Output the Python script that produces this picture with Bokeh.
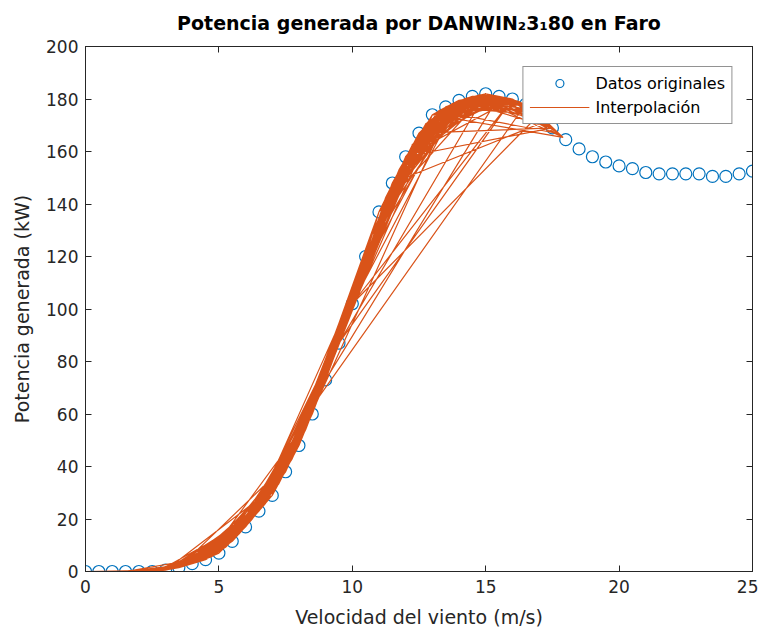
from bokeh.plotting import figure
from bokeh.models import Range1d, LinearAxis, Legend, LegendItem, FixedTicker, CustomLabelingPolicy
from bokeh.embed import file_html
from bokeh.resources import INLINE

# Curva de potencia original (m/s -> kW)
velocidad = [0, 0.5, 1, 1.5, 2, 2.5, 3, 3.5, 4, 4.5, 5, 5.5, 6, 6.5, 7, 7.5, 8, 8.5, 9, 9.5,
             10, 10.5, 11, 11.5, 12, 12.5, 13, 13.5, 14, 14.5, 15, 15.5, 16, 16.5, 17, 17.5,
             18, 18.5, 19, 19.5, 20, 20.5, 21, 21.5, 22, 22.5, 23, 23.5, 24, 24.5, 25]
potencia = [0, 0, 0, 0, 0, 0, 0.5, 1.5, 3, 4.5, 7, 11.5, 17, 23, 29, 38, 48, 60, 73, 87,
            102, 120, 137, 148, 158, 167, 174, 177, 179.5, 181, 182, 181, 180, 178, 174, 169,
            164.5, 161, 158, 156, 154.5, 153.5, 152, 151.5, 151.5, 151.5, 151.5, 150.5, 150.5, 151.5, 152.5]

# Serie temporal de viento en Faro y potencia interpolada (en orden temporal)
viento_serie = [
    1.5, 0.5, 1.25, 2.25, 3.0, 2.0, 2.75, 3.75, 3.25, 4.5, 3.5, 4.25, 5.25, 4.0, 3.0, 2.5, 1.75, 0.75, 0.0, 1.0,
    2.25, 3.5, 4.75, 6.0, 5.0, 4.25, 5.5, 6.75, 5.75, 4.5, 3.75, 5.0, 6.5, 7.75, 6.25, 5.25, 7.0, 8.25, 7.25, 6.0,
    4.75, 3.5, 7.75, 8.75, 7.5, 9.0, 10.25, 8.5, 9.75, 11.0, 12.25, 10.5, 9.25, 8.0, 6.75, 5.5, 4.5, 8.5, 9.5, 11.25,
    12.5, 13.75, 12.0, 10.75, 11.75, 13.0, 14.25, 13.25, 12.25, 11.0, 9.75, 8.25, 7.0, 5.75, 4.25, 3.25, 2.5, 1.5, 2.75, 4.0,
    5.25, 6.5, 8.0, 9.5, 10.75, 12.0, 13.5, 14.75, 15.5, 14.5, 13.0, 14.0, 15.25, 16.0, 15.0, 13.75, 12.75, 11.5, 10.25, 9.0,
    7.75, 6.25, 5.0, 3.75, 4.75, 6.0, 7.25, 8.75, 16.5, 15.75, 14.5, 15.5, 16.25, 17.0, 16.0, 14.75, 13.5, 12.5, 17.5, 16.75,
    15.25, 14.0, 12.75, 11.5, 17.25, 16.5, 15.0, 13.75, 14.5, 15.75, 14.25, 13.0, 17.9, 17.0, 15.5, 14.0, 12.0, 16.0, 15.0, 13.25,
    12.0, 10.5, 9.25, 10.0, 16.0, 14.75, 13.5, 12.25, 11.0, 9.5, 16.0, 15.25, 14.0, 12.75, 11.25, 10.0, 17.0, 15.75, 14.5, 13.25,
    12.0, 10.75, 9.5, 8.5, 7.25, 6.25, 5.25, 4.5, 3.5, 2.75, 2.0, 3.0, 4.25, 5.5, 7.0, 8.0, 9.0, 15.5, 14.25, 13.0,
    11.75, 10.5, 9.25, 8.0, 6.75, 5.75, 4.75, 4.0, 3.25, 2.25, 1.25, 0.5, 1.5, 2.5, 3.5, 4.5, 5.75, 7.25, 8.75, 10.0,
    11.25, 12.5, 13.75, 15.0, 16.25, 17.75, 16.75, 15.5, 14.25, 13.0, 11.75, 10.25, 8.75, 7.5, 6.25, 5.5, 6.75, 8.25, 9.75, 11.5,
    13.0, 14.5, 15.75, 14.75, 13.5, 12.25, 10.75, 9.25, 7.75, 6.5, 5.25, 4.0, 5.0, 6.0, 7.5, 9.0, 10.5, 12.0, 13.25, 14.0,
    12.75, 11.25, 9.75, 8.75, 16.5, 15.5, 14.25, 15.0, 16.0, 14.75, 13.75, 12.5, 11.0, 9.5, 8.25, 7.0, 5.75, 4.5, 3.25, 2.0,
    0.5, 2.5, 1.0, 3.25, 1.75, 4.0, 2.25, 4.75, 3.0, 5.5, 3.5, 6.0, 4.0, 6.5, 4.5, 2.0, 0.25, 2.75, 5.0, 3.25,
    5.75, 3.75, 6.25, 4.25, 7.0, 4.75, 7.5, 5.25, 8.0, 5.75,
    8.5, 6.25, 9.0, 6.75, 9.5, 7.25, 10.0, 7.75, 10.5, 8.25, 11.0, 8.75, 11.5, 9.25, 12.0, 9.75, 12.5, 10.25, 13.0, 10.75,
    13.5, 11.25, 14.0, 11.75, 14.5, 12.25, 15.0, 12.75, 15.5, 13.25, 16.0, 13.75, 16.5, 14.25, 17.0, 14.75, 17.5, 15.25, 12.5, 15.75,
    13.0, 10.0, 12.25, 9.0, 11.5, 8.0, 10.75, 7.5, 10.0, 6.75, 9.25, 6.0, 8.5, 5.25, 7.75, 4.5, 7.0, 3.75, 6.25, 3.0,
    5.5, 2.5, 4.75, 1.5, 4.0, 6.75, 5.0, 8.0, 6.25, 9.0, 7.0, 10.25, 8.25, 11.0, 9.0, 12.0, 9.75, 13.0, 10.5, 14.0,
    11.5, 14.75, 12.0, 15.25, 12.75, 16.0, 13.5, 16.75, 14.0, 17.25, 14.5, 17.9, 15.0, 13.0, 15.5, 13.75, 16.25, 14.25, 11.0, 15.0,
    9.5, 16.0, 15.0, 13.75, 8.75, 16.5, 15.25, 14.0, 10.0, 17.0, 16.0, 14.75, 12.0, 17.5, 16.25, 13.25, 17.75, 15.5, 13.5, 11.75,
    8.25, 5.5, 7.5, 4.75, 6.75, 4.25, 6.0, 3.5, 5.25, 3.0, 4.5, 2.25, 3.75, 1.25, 3.0, 0.0, 2.0, 4.0, 2.75, 5.0,
    3.25, 6.0, 4.25, 7.25, 5.5, 8.5, 6.5, 9.25, 7.25, 10.0, 8.0, 10.75, 8.75, 11.5, 9.5, 12.25, 10.25, 13.25, 11.0, 14.5,
    12.0, 15.0, 13.0, 15.75, 14.0, 16.5, 15.0, 17.25, 15.75, 13.5, 16.0, 14.5, 12.5, 14.75, 11.75, 13.75, 10.75, 12.75, 9.75, 11.75,
    8.75, 10.75, 7.75, 9.75, 7.0, 9.0, 6.5, 8.25, 5.75, 7.5, 5.0, 6.75, 4.25, 6.0, 3.5, 5.25, 2.75, 4.5, 2.0, 1.0,
    2.5, 5.0, 2.75, 5.25, 3.0, 5.5, 3.25, 5.75, 3.5, 6.0, 3.75, 6.25, 4.0, 6.5, 4.25, 6.75, 4.5, 7.0, 4.75, 7.25,
    3.0, 6.5, 3.5, 7.0, 4.0, 7.5, 4.5, 8.0, 5.0, 8.5, 5.5, 9.0, 6.0, 9.5, 6.5, 10.0, 7.0, 10.5, 7.5, 11.0,
    8.0, 4.5, 7.75, 4.25, 7.25, 3.75, 6.75, 3.25, 6.25, 2.75, 5.75, 9.25, 6.0, 9.75, 6.25, 10.25, 7.25, 10.75, 8.25, 11.75,
    8.75, 12.25, 9.25, 12.75, 9.75, 13.25, 10.25, 13.75, 10.75, 14.25, 11.25, 14.75, 11.75, 15.25, 12.25, 15.75, 12.75, 16.25, 13.25, 16.75,
    13.5, 10.5, 14.0, 11.0, 14.5, 11.5, 15.0, 12.0, 15.5, 12.5, 16.0, 13.0, 16.5, 13.5, 17.0, 14.0, 17.5, 14.5, 11.5, 8.25,
]
potencia_serie = [
    0, 0, 0, 0, 0.5, 0, 0.25, 2.25, 1, 4.5, 1.5, 3.75, 9.25, 3, 0.5, 0, 0, 0, 0, 0,
    0, 1.5, 5.75, 17, 7, 3.75, 11.5, 26, 14.25, 4.5, 2.25, 7, 23, 43, 20, 9.25, 29, 54, 33.5, 17,
    5.75, 1.5, 43, 66.5, 38, 73, 111, 60, 94.5, 137, 162.5, 120, 80, 48, 26, 11.5, 4.5, 60, 87, 142.5,
    167, 178.25, 158, 128.5, 153, 174, 180.25, 175.5, 162.5, 137, 94.5, 54, 29, 14.25, 3.75, 1, 0, 0, 0.25, 3,
    9.25, 23, 48, 87, 128.5, 158, 177, 181.5, 181, 181, 174, 179.5, 181.5, 180, 182, 178.25, 170.5, 148, 111, 73,
    43, 20, 7, 2.25, 5.75, 17, 33.5, 66.5, 178, 180.5, 181, 181, 179, 174, 180, 181.5, 177, 167, 169, 176,
    181.5, 179.5, 170.5, 148, 171.5, 178, 182, 178.25, 181, 180.5, 180.25, 174, 165.4, 174, 181, 179.5, 158, 180, 182, 175.5,
    158, 120, 80, 102, 180, 181.5, 177, 162.5, 137, 87, 180, 181.5, 179.5, 170.5, 142.5, 102, 174, 180.5, 181, 175.5,
    158, 128.5, 87, 60, 33.5, 20, 9.25, 4.5, 1.5, 0.25, 0, 0.5, 3.75, 11.5, 29, 48, 73, 181, 180.25, 174,
    153, 120, 80, 48, 26, 14.25, 5.75, 3, 1, 0, 0, 0, 0, 0, 1.5, 4.5, 14.25, 33.5, 66.5, 102,
    142.5, 167, 178.25, 182, 179, 166.75, 176, 181, 180.25, 174, 153, 111, 66.5, 38, 20, 11.5, 26, 54, 94.5, 148,
    174, 181, 180.5, 181.5, 177, 162.5, 128.5, 80, 43, 23, 9.25, 3, 7, 17, 38, 73, 120, 158, 175.5, 179.5,
    170.5, 142.5, 94.5, 66.5, 178, 181, 180.25, 182, 180, 181.5, 178.25, 167, 137, 87, 54, 29, 14.25, 4.5, 1, 0,
    0, 0, 0, 1, 0, 3, 0, 5.75, 0.5, 11.5, 1.5, 17, 3, 23, 4.5, 0, 0, 0.25, 7, 1,
    14.25, 2.25, 20, 3.75, 29, 5.75, 38, 9.25, 48, 14.25,
    60, 20, 73, 26, 87, 33.5, 102, 43, 120, 54, 137, 66.5, 148, 80, 158, 94.5, 167, 111, 174, 128.5,
    177, 142.5, 179.5, 153, 181, 162.5, 182, 170.5, 181, 175.5, 180, 178.25, 178, 180.25, 174, 181.5, 169, 181.5, 167, 180.5,
    174, 102, 162.5, 73, 148, 48, 128.5, 38, 102, 26, 80, 17, 60, 9.25, 43, 4.5, 29, 2.25, 20, 0.5,
    11.5, 0, 5.75, 0, 3, 26, 7, 48, 20, 73, 29, 111, 54, 137, 73, 158, 94.5, 174, 120, 179.5,
    148, 181.5, 158, 181.5, 170.5, 180, 177, 176, 179.5, 171.5, 181, 165.4, 182, 174, 181, 178.25, 179, 180.25, 137, 182,
    87, 180, 182, 178.25, 66.5, 178, 181.5, 179.5, 102, 174, 180, 181.5, 158, 169, 179, 175.5, 166.75, 181, 177, 153,
    54, 11.5, 38, 5.75, 26, 3.75, 17, 1.5, 9.25, 0.5, 4.5, 0, 2.25, 0, 0.5, 0, 0, 3, 0.25, 7,
    1, 17, 3.75, 33.5, 11.5, 60, 23, 80, 33.5, 102, 48, 128.5, 66.5, 148, 87, 162.5, 111, 175.5, 137, 181,
    158, 182, 174, 180.5, 179.5, 178, 182, 171.5, 180.5, 177, 180, 181, 167, 181.5, 153, 178.25, 128.5, 170.5, 94.5, 153,
    66.5, 128.5, 43, 94.5, 29, 73, 23, 54, 14.25, 38, 7, 26, 3.75, 17, 1.5, 9.25, 0.25, 4.5, 0, 0,
    0, 7, 0.25, 9.25, 0.5, 11.5, 1, 14.25, 1.5, 17, 2.25, 20, 3, 23, 3.75, 26, 4.5, 29, 5.75, 33.5,
    0.5, 23, 1.5, 29, 3, 38, 4.5, 48, 7, 60, 11.5, 73, 17, 87, 23, 102, 29, 120, 38, 137,
    48, 4.5, 43, 3.75, 33.5, 2.25, 26, 1, 20, 0.25, 14.25, 80, 17, 94.5, 20, 111, 33.5, 128.5, 54, 153,
    66.5, 162.5, 80, 170.5, 94.5, 175.5, 111, 178.25, 128.5, 180.25, 142.5, 181.5, 153, 181.5, 162.5, 180.5, 170.5, 179, 175.5, 176,
    177, 120, 179.5, 137, 181, 148, 182, 158, 181, 167, 180, 174, 178, 177, 174, 179.5, 169, 181, 148, 54,
]

x_ticks = [0, 5, 10, 15, 20, 25]
y_ticks = [0, 20, 40, 60, 80, 100, 120, 140, 160, 180, 200]

titulo = "Potencia generada por DANWIN\u20823\u208180 en Faro"
etiqueta_x = "Velocidad del viento (m/s)"
etiqueta_y = "Potencia generada (kW)"

AZUL = "#0072BD"
NARANJA = "#D95319"
GRIS = "#262626"
FONT = "DejaVu Sans"

p = figure(width=758, height=635, output_backend="svg", toolbar_location=None,
           x_range=Range1d(0, 25), y_range=Range1d(0, 200),
           min_border_left=85, min_border_right=6, min_border_top=46, min_border_bottom=64)
p.background_fill_color = "white"
p.border_fill_color = "white"
p.outline_line_color = GRIS
p.outline_line_width = 1
p.xgrid.visible = False
p.ygrid.visible = False

p.title.text = titulo
p.title.align = "center"
p.title.text_font = FONT
p.title.text_font_size = "19px"
p.title.text_font_style = "bold"
p.title.text_color = "black"
p.title.standoff = 18

c = p.scatter(velocidad, potencia, marker="circle", size=12, fill_color=None,
              line_color=AZUL, line_width=1.2)
l = p.line(viento_serie, potencia_serie, line_color=NARANJA, line_width=1.2)

no_labels = CustomLabelingPolicy(code="for (const i of Array.from(indices)) { indices.unset(i) } return indices")

def style_axis(ax, ticks, labels=True):
    ax.ticker = FixedTicker(ticks=ticks)
    ax.minor_tick_line_color = None
    ax.major_tick_in = 6
    ax.major_tick_out = 0
    ax.major_tick_line_color = GRIS
    ax.axis_line_color = GRIS
    ax.major_label_text_color = GRIS
    ax.major_label_text_font = FONT
    ax.major_label_text_font_size = "17px" if labels else "1px"
    if not labels:
        ax.major_label_policy = no_labels
        ax.major_label_standoff = 0

xa = p.xaxis[0]
ya = p.yaxis[0]
style_axis(xa, x_ticks)
style_axis(ya, y_ticks)
xa.major_label_standoff = 8
ya.major_label_standoff = 7
for ax, txt, so in ((xa, etiqueta_x, 10), (ya, etiqueta_y, 10)):
    ax.axis_label = txt
    ax.axis_label_text_font = FONT
    ax.axis_label_text_font_size = "19px"
    ax.axis_label_text_font_style = "normal"
    ax.axis_label_text_color = GRIS
    ax.axis_label_standoff = so

top = LinearAxis()
style_axis(top, x_ticks, labels=False)
p.add_layout(top, "above")
right = LinearAxis()
style_axis(right, y_ticks, labels=False)
p.add_layout(right, "right")

legend = Legend(items=[LegendItem(label="Datos originales", renderers=[c]),
                       LegendItem(label="Interpolación", renderers=[l])],
                location="top_right")
legend.margin = 20
legend.padding = 6
legend.spacing = 4
legend.glyph_width = 60
legend.glyph_height = 20
legend.label_height = 20
legend.label_standoff = 6
legend.label_text_font = FONT
legend.label_text_font_size = "16px"
legend.label_text_color = "black"
legend.border_line_color = GRIS
legend.border_line_width = 1
legend.background_fill_color = "white"
legend.background_fill_alpha = 1
p.add_layout(legend)

open("out.html", "w").write(file_html(p, INLINE))
